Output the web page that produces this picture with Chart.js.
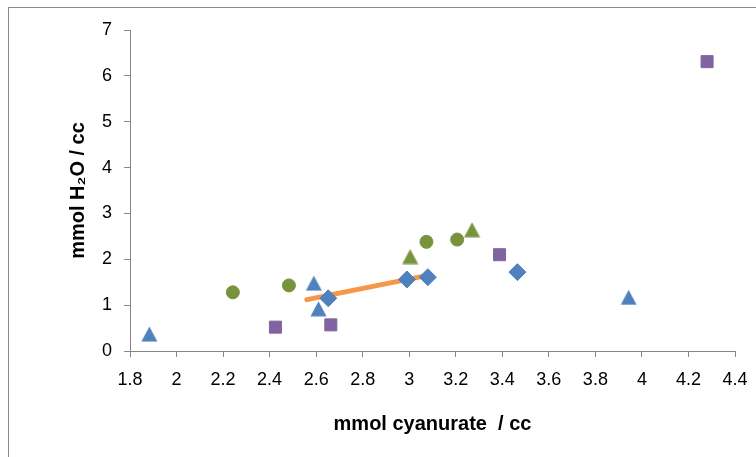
<!DOCTYPE html>
<html>
<head>
<meta charset="utf-8">
<script src="https://cdn.jsdelivr.net/npm/chart.js@4"></script>
<style>
  body { margin: 0; background: #fff; }
  #wrap { position: relative; width: 756px; height: 457px; overflow: hidden; }
  #frame { position: absolute; left: 8px; top: 7px; width: 800px; height: 500px;
           border: 1px solid #8a8a8a; pointer-events: none; }
</style>
</head>
<body>
<div id="wrap">
  <canvas id="canvas" width="756" height="457"></canvas>
  <div id="frame"></div>
</div>
<script>
// scatter: mmol H2O vs mmol cyanurate

var xTicks = [1.8, 2, 2.2, 2.4, 2.6, 2.8, 3, 3.2, 3.4, 3.6, 3.8, 4, 4.2, 4.4];
var yTicks = [0, 1, 2, 3, 4, 5, 6, 7];

var blueDiamondX = [2.652, 2.99, 3.08, 3.465];
var blueDiamondY = [1.15, 1.56, 1.61, 1.72];

var blueTriangleX = [1.883, 2.59, 2.61, 3.943];
var blueTriangleY = [0.37, 1.48, 0.92, 1.17];

var greenCircleX = [2.242, 2.483, 3.074, 3.206];
var greenCircleY = [1.28, 1.43, 2.38, 2.43];

var greenTriangleX = [3.004, 3.27];
var greenTriangleY = [2.06, 2.645];

var purpleSquareX = [2.425, 2.663, 3.388, 4.28];
var purpleSquareY = [0.52, 0.57, 2.10, 6.31];

var fitLineX = [2.56, 3.09];
var fitLineY = [1.12, 1.66];

function pts(xs, ys){
  return xs.map(function(x, i){ return {x: x, y: ys[i]}; });
}

// excel style triangle, centred on its box
function triangleMarker(color){
  var c = document.createElement('canvas');
  c.width = 17; c.height = 16;
  var g = c.getContext('2d');
  g.fillStyle = color;
  g.beginPath();
  g.moveTo(8.5, 0.5);
  g.lineTo(16.5, 15.5);
  g.lineTo(0.5, 15.5);
  g.closePath();
  g.fill();
  return c;
}

const ctx = document.getElementById('canvas').getContext('2d');
const myChart = new Chart(ctx, {
  type: 'scatter',
  data: {
    datasets: [{
      label: 'diamonds',
      data: pts(blueDiamondX, blueDiamondY),
      pointStyle: 'rectRot',
      pointRadius: 8.5,
      backgroundColor: '#4F81BD',
      borderColor: '#4F81BD',
      borderWidth: 1
    }, {
      label: 'triangles',
      data: pts(blueTriangleX, blueTriangleY),
      pointStyle: triangleMarker('#4F81BD'),
      pointRadius: 9
    }, {
      label: 'circles',
      data: pts(greenCircleX, greenCircleY),
      pointStyle: 'circle',
      pointRadius: 6.5,
      backgroundColor: '#77933C',
      borderColor: '#77933C',
      borderWidth: 1
    }, {
      label: 'green triangles',
      data: pts(greenTriangleX, greenTriangleY),
      pointStyle: triangleMarker('#77933C'),
      pointRadius: 9
    }, {
      label: 'squares',
      data: pts(purpleSquareX, purpleSquareY),
      pointStyle: 'rect',
      pointRadius: 8.5,
      backgroundColor: '#8064A2',
      borderColor: '#8064A2',
      borderWidth: 1
    }, {
      label: 'fit',
      data: pts(fitLineX, fitLineY),
      showLine: true,
      pointRadius: 0,
      borderColor: '#F79646',
      backgroundColor: '#F79646',
      borderWidth: 5,
      borderCapStyle: 'round'
    }]
  },
  options: {
    responsive: false,
    animation: false,
    layout: { padding: { left: 0, top: 30, right: 21, bottom: 0 } },
    plugins: {
      legend: { display: false },
      tooltip: { enabled: false }
    },
    scales: {
      x: {
        type: 'linear',
        min: 1.8,
        max: 4.4,
        afterFit: function(s){ s.height = 106; s.paddingLeft = 0; s.paddingRight = 0; },
        afterBuildTicks: function(s){ s.ticks = xTicks.map(function(v){ return {value: v}; }); },
        grid: { drawOnChartArea: false, drawTicks: true, tickLength: 6, color: '#868686' },
        border: { display: true, color: '#868686', width: 1 },
        ticks: {
          padding: 12,
          color: '#000',
          font: { family: 'Liberation Sans, Arial', size: 18 },
          maxRotation: 0,
          autoSkip: false,
          callback: function(v){ return String(v); }
        },
        title: {
          display: true,
          text: 'mmol cyanurate  / cc',
          color: '#000',
          font: { family: 'Liberation Sans, Arial', size: 20, weight: 'bold' },
          padding: { top: 0, bottom: 21 }
        }
      },
      y: {
        min: 0,
        max: 7,
        afterFit: function(s){ s.width = 130; s.paddingTop = 0; s.paddingBottom = 0; },
        afterBuildTicks: function(s){ s.ticks = yTicks.map(function(v){ return {value: v}; }); },
        grid: { drawOnChartArea: false, drawTicks: true, tickLength: 6, color: '#868686' },
        border: { display: true, color: '#868686', width: 1 },
        ticks: {
          padding: 12,
          color: '#000',
          font: { family: 'Liberation Sans, Arial', size: 18 },
          callback: function(v){ return String(v); }
        },
        title: {
          display: true,
          text: 'mmol H\u2082O / cc',
          color: '#000',
          font: { family: 'Liberation Sans, Arial', size: 20, weight: 'bold' },
          padding: { top: 66, bottom: 0 }
        }
      }
    }
  }
});
</script>
</body>
</html>
